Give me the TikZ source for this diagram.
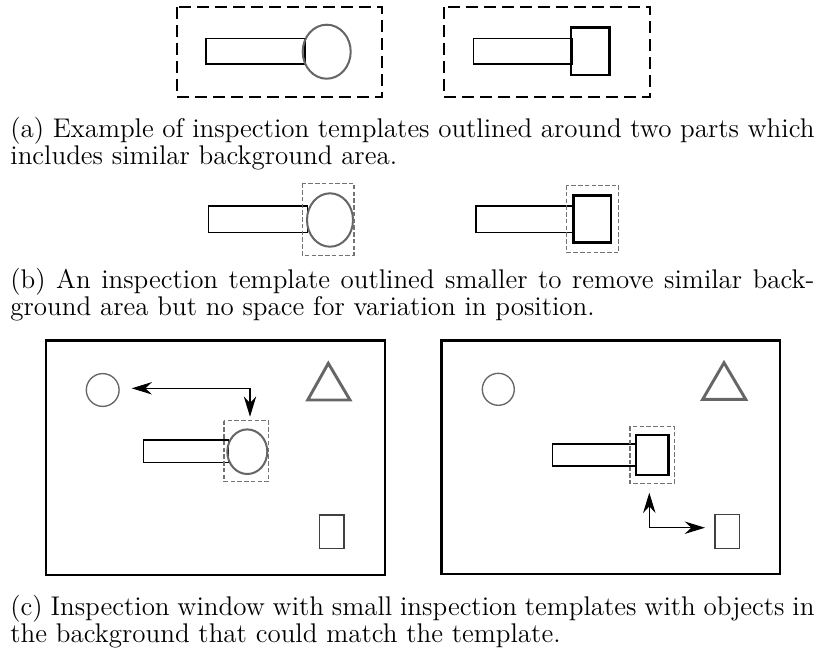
\documentclass[tikz,border=0pt]{standalone}
\usetikzlibrary{arrows.meta}
\begin{document}
\begin{tikzpicture}[x=0.4444pt,y=-0.4444pt,
  bigdash/.style={draw=black, line width=1.2pt, dash pattern=on 5.3pt off 2.7pt},
  smalldash/.style={draw=black!55, line width=0.45pt, dash pattern=on 2pt off 1pt},
  bar/.style={draw=black, line width=0.6pt},
  roundpart/.style={draw=black!60, line width=0.9pt},
  squarepart/.style={draw=black, line width=1.1pt},
  frame/.style={draw=black, line width=1.3pt},
  bgcirc/.style={draw=black!60, line width=0.6pt},
  bgrect/.style={draw=black!75, line width=0.6pt},
  tri/.style={draw=black!60, line width=1.3pt, line join=miter},
  arr/.style={line width=0.5pt, {Stealth[length=9pt,width=5.5pt]}-{Stealth[length=9pt,width=5.5pt]}},
  captext/.style={anchor=base west, inner sep=0pt, font=\fontsize{12}{14}\selectfont}
]
\useasboundingbox (0,0) rectangle (818,656);

% (a)
\draw[bigdash] (177,7) rectangle (382,97);
\draw[bar] (206,38.3) rectangle (305,64);
\draw[roundpart] (326.7,51.7) ellipse [x radius=24, y radius=27];
\draw[bigdash] (444,7) rectangle (650,97);
\draw[bar] (473.3,38.3) rectangle (572.7,64);
\draw[squarepart] (571,27.7) rectangle (609.3,75);

\node[captext] (capa1) at (10,137.3) {\makebox[357.3pt][s]{(a) Example of inspection templates outlined around two parts which}};
\node[captext] (capa2) at (10,164.3) {includes similar background area.};

% (b)
\draw[bar] (208.3,206) rectangle (307.3,232.3);
\draw[roundpart] (330,220) ellipse [x radius=23, y radius=26.7];
\draw[smalldash] (302.3,183.3) rectangle (354,255);
\draw[bar] (476,206) rectangle (574.3,232.3);
\draw[squarepart] (573.3,195.7) rectangle (611,242.3);
\draw[smalldash] (566.7,185) rectangle (618.3,252.7);

\node[captext] (capb1) at (10,288.5) {\makebox[357.3pt][s]{(b) An inspection template outlined smaller to remove similar back-}};
\node[captext] (capb2) at (10,315) {ground area but no space for variation in position.};

% (c) left
\draw[frame] (46,340.7) rectangle (385,575);
\draw[bgcirc] (102.7,390) circle [radius=16.4];
\draw[tri] (328.3,363.3) -- (350,400) -- (307.7,400) -- cycle;
\draw[bar] (143.3,440) rectangle (228.3,462.3);
\draw[roundpart] (247.3,451.7) ellipse [x radius=20, y radius=22.3];
\draw[smalldash] (224,420.7) rectangle (268.3,481.7);
\draw[bgrect] (319.3,515) rectangle (344,548.3);
\coordinate (la) at (131.7,388.3);
\coordinate (lb) at (250,416.7);
\draw[arr] (la) -| (lb);

% (c) right
\draw[frame] (441.7,340.7) rectangle (780,574);
\draw[bgcirc] (498.3,389.3) circle [radius=16];
\draw[tri] (724,362.7) -- (745.7,399.3) -- (702.7,399.3) -- cycle;
\draw[bar] (552.3,444) rectangle (636.7,466);
\draw[squarepart] (636,435) rectangle (668.3,475);
\draw[smalldash] (630,426) rectangle (674.3,483.3);
\draw[bgrect] (715,514.3) rectangle (739.3,548.3);
\coordinate (ra) at (649.3,492.7);
\coordinate (rb) at (705,527.7);
\draw[arr] (ra) |- (rb);

\node[captext] (capc1) at (10,615.7) {\makebox[357.3pt][s]{(c) Inspection window with small inspection templates with objects in}};
\node[captext] (capc2) at (10,642.7) {the background that could match the template.};
\end{tikzpicture}
\end{document}
